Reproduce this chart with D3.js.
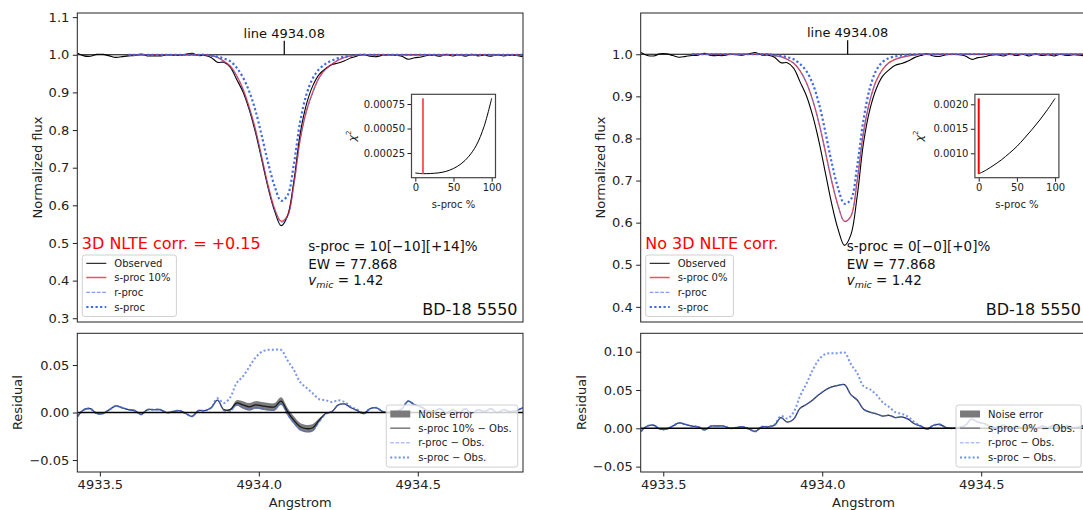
<!DOCTYPE html>
<html>
<head>
<meta charset="utf-8">
<script src="https://d3js.org/d3.v7.min.js"></script>
<style>
  body { margin: 0; background: #fff; }
  svg { display: block; font-family: "DejaVu Sans", sans-serif; }
</style>
</head>
<body>
<svg id="chart" width="1083" height="510"></svg>
<script>
// BD-18 5550, Ba II line at 4934.08, spectrum sampled every 0.02 A
const waveStart = 4933.43;
const waveStep = 0.02;
const lineCenter = 4934.08;

const obsFlux = [
  1.004, 0.997, 0.996, 1.001, 1.001, 0.997, 0.993, 0.995, 0.997, 0.998,
  1.002, 0.997, 0.997, 0.997, 1.000, 0.999, 0.998, 1.001, 1.004, 0.998,
  0.998, 0.993, 0.980, 0.980, 0.967, 0.935, 0.902, 0.854, 0.792, 0.718,
  0.644, 0.584, 0.546, 0.571, 0.663, 0.790, 0.869, 0.918, 0.948, 0.963,
  0.974, 0.978, 0.984, 0.992, 0.997, 1.001, 0.996, 0.995, 0.999, 1.000,
  0.999, 0.996, 0.988, 0.992, 0.994, 0.998, 0.999, 0.996, 1.001, 0.997,
  1.000, 0.996, 1.001, 0.997, 0.999, 0.996, 1.000, 0.997, 0.999, 0.998,
  0.995
];

// synthetic profiles: the part below the continuum, starting at index coreStart
const coreStart = 20;
const continuum = 1.0;
const modelFrom = 8;   // synthetic spectra start at 4933.59

const sproc10Left = [
  1.000, 0.998, 0.993, 0.983, 0.970, 0.945, 0.910, 0.860, 0.800, 0.725,
  0.650, 0.590, 0.558, 0.572, 0.655, 0.775, 0.852, 0.902, 0.940, 0.962,
  0.975, 0.986, 0.993, 0.997, 0.999, 1.000
];
const rprocLeft = [
  1.000, 0.998, 0.993, 0.982, 0.968, 0.943, 0.907, 0.857, 0.797, 0.722,
  0.647, 0.587, 0.555, 0.569, 0.652, 0.772, 0.849, 0.899, 0.938, 0.961,
  0.975, 0.986, 0.993, 0.997, 0.999, 1.000
];
const sprocLeft = [
  1.000, 0.998, 0.995, 0.990, 0.983, 0.966, 0.940, 0.902, 0.850, 0.782,
  0.710, 0.650, 0.612, 0.626, 0.708, 0.822, 0.895, 0.938, 0.962, 0.976,
  0.985, 0.991, 0.995, 0.998, 1.000, 1.000
];
// right panel: best fit is 0 % s-proc, i.e. the r-proc profile itself
const rprocRight = [
  1.000, 0.997, 0.994, 0.988, 0.979, 0.961, 0.933, 0.891, 0.836, 0.768,
  0.698, 0.640, 0.603, 0.615, 0.700, 0.815, 0.890, 0.937, 0.964, 0.980,
  0.988, 0.993, 0.996, 0.998, 1.000, 1.000
];
const sprocRight = [
  1.000, 0.998, 0.996, 0.993, 0.988, 0.977, 0.960, 0.930, 0.882, 0.815,
  0.742, 0.682, 0.645, 0.655, 0.735, 0.845, 0.920, 0.962, 0.982, 0.991,
  0.995, 0.997, 0.999, 1.000, 1.000, 1.000
];

// noise error (half width) around the s-proc 10% residual, from index noiseStart
const noiseStart = 23;
const noiseLeft = [0, 0.001, 0.003, 0.004, 0.004, 0.004, 0.004, 0.004, 0.004,
  0.004, 0.004, 0.004, 0.004, 0.004, 0.004, 0.002, 0];

// chi^2 vs s-process fraction (insets)
const chiFraction = [0, 10, 20, 30, 40, 50, 60, 70, 80, 90, 100];
const chiLeft = [0.000046, 0.000039, 0.000041, 0.000047, 0.000062, 0.000092,
  0.000140, 0.000215, 0.000330, 0.000520, 0.000808];
const chiRight = [0.00058, 0.00066, 0.00076, 0.00087, 0.00100, 0.00114,
  0.00131, 0.00149, 0.00168, 0.00189, 0.00212];

// ticks
const waveTicks = [4933.5, 4934.0, 4934.5];
const fluxTicksLeft = [0.3, 0.4, 0.5, 0.6, 0.7, 0.8, 0.9, 1.0, 1.1];
const fluxTicksRight = [0.4, 0.5, 0.6, 0.7, 0.8, 0.9, 1.0];
const resTicksLeft = [-0.05, 0, 0.05];
const resTicksRight = [-0.05, 0, 0.05, 0.10];
const fracTicks = [0, 50, 100];
const chiTicksLeft = [0.00025, 0.0005, 0.00075];
const chiTicksRight = [0.001, 0.0015, 0.002];

// ---------------------------------------------------------------
const svg = d3.select("#chart");
const mainTop = 13, mainBottom = 322, resTop = 333.3, resBottom = 472;
const waveDomain = [4933.429, 4934.831];
const blue = "#4169e1";
const curve = d3.curveCatmullRom.alpha(0.5);

const wave = obsFlux.map((_, i) => waveStart + i * waveStep);

function fullProfile(core) {
    return obsFlux.map((_, i) => {
        const k = i - coreStart;
        return (k >= 0 && k < core.length) ? core[k] : continuum;
    });
}

const panels = [
    {
        id: "L", x0: 77.3, x1: 523,
        fluxDomain: [0.290, 1.111], fluxTicks: fluxTicksLeft,
        resDomain: [-0.0626, 0.0834], resTicks: resTicksLeft,
        mix: sproc10Left, rproc: rprocLeft, sproc: sprocLeft, noise: noiseLeft,
        mixLabel: "s-proc 10%", corrLabel: "3D NLTE corr. = +0.15",
        fitLabel: "s-proc = 10[\u221210][+14]%", fitDx: 231,
        chi: chiLeft, chiDomain: [-0.000002, 0.000849], chiTicks: chiTicksLeft,
        chiFormat: ".5f", best: 10, bestColor: "#ff5a5a"
    },
    {
        id: "R", x0: 640.7, x1: 1086.4,
        fluxDomain: [0.364, 1.098], fluxTicks: fluxTicksRight,
        resDomain: [-0.057, 0.124], resTicks: resTicksRight,
        mix: rprocRight, rproc: rprocRight, sproc: sprocRight, noise: null,
        mixLabel: "s-proc 0%", corrLabel: "No 3D NLTE corr.",
        fitLabel: "s-proc = 0[\u22120][+0]%", fitDx: 206,
        chi: chiRight, chiDomain: [0.000502, 0.002204], chiTicks: chiTicksRight,
        chiFormat: ".4f", best: 0, bestColor: "#ff0000"
    }
];

function styleAxis(g, size) {
    g.attr("font-family", null).attr("font-size", size);
    g.select(".domain").remove();
    g.selectAll(".tick line").attr("stroke", "#222");
    g.selectAll(".tick text").attr("fill", "#222");
}

function legend(g, x, y, rows, fontSize, rowY) {
    const lg = g.append("g").attr("transform", `translate(${x},${y})`);
    const box = lg.append("rect").attr("rx", 2.5).attr("fill", "white").attr("fill-opacity", 0.8)
        .attr("stroke", "#d0d0d0").attr("stroke-width", 1);
    let maxLen = 0;
    rows.forEach((r, k) => {
        const cy = rowY[k];
        if (r.patch) {
            lg.append("rect").attr("x", 4).attr("y", cy - 3.5).attr("width", 20).attr("height", 7)
                .attr("fill", r.patch);
        } else {
            lg.append("line").attr("x1", 4).attr("x2", 24).attr("y1", cy).attr("y2", cy)
                .attr("stroke", r.color).attr("stroke-width", r.width)
                .attr("stroke-opacity", r.opacity || 1)
                .attr("stroke-dasharray", r.dash || null);
        }
        const t = lg.append("text").attr("x", 32).attr("y", cy).attr("dy", "0.35em")
            .attr("font-size", fontSize).attr("fill", "#222").text(r.label);
        maxLen = Math.max(maxLen, t.node().getComputedTextLength());
    });
    box.attr("width", 32 + maxLen + 6).attr("height", rowY[rowY.length - 1] + 9.5);
    return lg;
}

panels.forEach((p) => {
    const g = svg.append("g");
    const x = d3.scaleLinear().domain(waveDomain).range([p.x0, p.x1]);
    const yMain = d3.scaleLinear().domain(p.fluxDomain).range([mainBottom, mainTop]);
    const yRes = d3.scaleLinear().domain(p.resDomain).range([resBottom, resTop]);

    const mix = fullProfile(p.mix), rproc = fullProfile(p.rproc), sproc = fullProfile(p.sproc);
    const idx = d3.range(obsFlux.length);
    const modelIdx = idx.filter((i) => i >= modelFrom);

    const defs = g.append("defs");
    defs.append("clipPath").attr("id", "clipMain" + p.id).append("rect")
        .attr("x", p.x0).attr("y", mainTop).attr("width", p.x1 - p.x0).attr("height", mainBottom - mainTop);
    defs.append("clipPath").attr("id", "clipRes" + p.id).append("rect")
        .attr("x", p.x0).attr("y", resTop).attr("width", p.x1 - p.x0).attr("height", resBottom - resTop);

    // ---------- main panel ----------
    const m = g.append("g").attr("clip-path", `url(#clipMain${p.id})`);
    const lineMain = (arr) => d3.line().x((i) => x(wave[i])).y((i) => yMain(arr[i])).curve(curve);

    m.append("line").attr("x1", p.x0).attr("x2", p.x1).attr("y1", yMain(1)).attr("y2", yMain(1))
        .attr("stroke", "black").attr("stroke-width", 1);
    m.append("path").attr("d", lineMain(obsFlux)(idx)).attr("fill", "none")
        .attr("stroke", "black").attr("stroke-width", 1.1);
    m.append("path").attr("d", lineMain(mix)(modelIdx)).attr("fill", "none")
        .attr("stroke", "red").attr("stroke-opacity", 0.7).attr("stroke-width", 1.4);
    m.append("path").attr("d", lineMain(rproc)(modelIdx)).attr("fill", "none")
        .attr("stroke", blue).attr("stroke-opacity", 0.8).attr("stroke-width", 1)
        .attr("stroke-dasharray", "3.7,1.6");
    m.append("path").attr("d", lineMain(sproc)(modelIdx)).attr("fill", "none")
        .attr("stroke", blue).attr("stroke-width", 2.2).attr("stroke-dasharray", "2.2,2.4");

    // line marker
    g.append("line").attr("x1", x(lineCenter)).attr("x2", x(lineCenter))
        .attr("y1", yMain(1)).attr("y2", yMain(1) - 14).attr("stroke", "black").attr("stroke-width", 1.2);
    g.append("text").attr("x", x(lineCenter)).attr("y", yMain(1) - 17).attr("text-anchor", "middle")
        .attr("font-size", 13).attr("fill", "#111").text("line " + lineCenter.toFixed(2));

    const ya = g.append("g").attr("transform", `translate(${p.x0},0)`)
        .call(d3.axisLeft(yMain).tickValues(p.fluxTicks).tickFormat(d3.format(".1f")).tickSize(4.5).tickPadding(3.5));
    styleAxis(ya, 13);
    g.append("rect").attr("x", p.x0).attr("y", mainTop).attr("width", p.x1 - p.x0)
        .attr("height", mainBottom - mainTop).attr("fill", "none").attr("stroke", "#222").attr("stroke-width", 1);
    g.append("text").attr("transform", `translate(${p.x0 - 40},${(mainTop + mainBottom) / 2}) rotate(-90)`)
        .attr("text-anchor", "middle").attr("dy", "0.35em").attr("font-size", 13).attr("fill", "#222")
        .text("Normalized flux");

    g.append("text").attr("x", p.x0 + 4.5).attr("y", 249).attr("font-size", 16).attr("fill", "red")
        .text(p.corrLabel);

    const fx = p.x0 + p.fitDx;
    g.append("text").attr("x", fx).attr("y", 250.7).attr("font-size", 13.5).attr("fill", "#111").text(p.fitLabel);
    g.append("text").attr("x", fx).attr("y", 268.8).attr("font-size", 13.5).attr("fill", "#111").text("EW = 77.868");
    const vt = g.append("text").attr("x", fx).attr("y", 284.5).attr("font-size", 13.5).attr("fill", "#111");
    vt.append("tspan").attr("font-style", "italic").text("v");
    vt.append("tspan").attr("font-style", "italic").attr("font-size", 9.5).attr("dy", 3).text("mic");
    vt.append("tspan").attr("dy", -3).text(" = 1.42");

    g.append("text").attr("x", p.x1 - 5.5).attr("y", 315).attr("text-anchor", "end")
        .attr("font-size", 16).attr("fill", "#111").text("BD-18 5550");

    legend(g, p.x0 + 5, 255, [
        { label: "Observed", color: "black", width: 1 },
        { label: p.mixLabel, color: "red", width: 1.5, opacity: 0.7 },
        { label: "r-proc", color: blue, width: 1, opacity: 0.8, dash: "3.7,1.6" },
        { label: "s-proc", color: blue, width: 2.2, dash: "2.2,2.4" }
    ], 10, [8.3, 22.5, 37.3, 52]);

    // ---------- chi^2 inset ----------
    const ix0 = p.x0 + 334.2, ix1 = p.x0 + 418.2, iy0 = 94.3, iy1 = 177.7;
    const xi = d3.scaleLinear().domain([-5, 105]).range([ix0, ix1]);
    const yi = d3.scaleLinear().domain(p.chiDomain).range([iy1, iy0]);
    g.append("rect").attr("x", ix0).attr("y", iy0).attr("width", ix1 - ix0).attr("height", iy1 - iy0)
        .attr("fill", "white");
    g.append("path").attr("d", d3.line().x((d, k) => xi(chiFraction[k])).y((d) => yi(d)).curve(curve)(p.chi))
        .attr("fill", "none").attr("stroke", "black").attr("stroke-width", 1);
    const chiExt = d3.extent(p.chi);
    g.append("line").attr("x1", xi(p.best)).attr("x2", xi(p.best))
        .attr("y1", yi(chiExt[0])).attr("y2", yi(chiExt[1]))
        .attr("stroke", p.bestColor).attr("stroke-width", 2);
    const ixa = g.append("g").attr("transform", `translate(0,${iy1})`)
        .call(d3.axisBottom(xi).tickValues(fracTicks).tickFormat(d3.format("d")).tickSize(4).tickPadding(2.5));
    styleAxis(ixa, 10);
    const iya = g.append("g").attr("transform", `translate(${ix0},0)`)
        .call(d3.axisLeft(yi).tickValues(p.chiTicks).tickFormat(d3.format(p.chiFormat)).tickSize(4).tickPadding(2.5));
    styleAxis(iya, 10);
    g.append("rect").attr("x", ix0).attr("y", iy0).attr("width", ix1 - ix0).attr("height", iy1 - iy0)
        .attr("fill", "none").attr("stroke", "#444").attr("stroke-width", 1.2);
    g.append("text").attr("x", (ix0 + ix1) / 2).attr("y", 207.5).attr("text-anchor", "middle")
        .attr("font-size", 10).attr("fill", "#222").text("s-proc %");
    const chiLab = g.append("text")
        .attr("transform", `translate(${ix0 - (p.id === "L" ? 56 : 52)},${(iy0 + iy1) / 2}) rotate(-90)`)
        .attr("text-anchor", "middle").attr("font-size", 11).attr("fill", "#222");
    chiLab.append("tspan").attr("font-style", "italic").text("\u03c7");
    chiLab.append("tspan").attr("font-size", 7).attr("dy", -5).text("2");

    // ---------- residual panel ----------
    const resMix = idx.map((i) => mix[i] - obsFlux[i]);
    const resR = idx.map((i) => rproc[i] - obsFlux[i]);
    const resS = idx.map((i) => sproc[i] - obsFlux[i]);
    const lineRes = (arr) => d3.line().x((i) => x(wave[i])).y((i) => yRes(arr[i])).curve(curve);

    const r = g.append("g").attr("clip-path", `url(#clipRes${p.id})`);
    if (p.noise) {
        const bandIdx = d3.range(noiseStart, noiseStart + p.noise.length);
        r.append("path").attr("d", d3.area()
            .x((i) => x(wave[i]))
            .y0((i) => yRes(resMix[i] - p.noise[i - noiseStart]))
            .y1((i) => yRes(resMix[i] + p.noise[i - noiseStart]))
            .curve(curve)(bandIdx))
            .attr("fill", "#6e6e6e").attr("fill-opacity", 0.9);
    }
    r.append("path").attr("d", lineRes(resMix)(idx)).attr("fill", "none")
        .attr("stroke", "black").attr("stroke-opacity", 0.8).attr("stroke-width", 1.3);
    r.append("path").attr("d", lineRes(resR)(idx)).attr("fill", "none")
        .attr("stroke", blue).attr("stroke-opacity", 0.7).attr("stroke-width", 1.3)
        .attr("stroke-dasharray", "3.7,1.6");
    r.append("path").attr("d", lineRes(resS)(idx)).attr("fill", "none")
        .attr("stroke", blue).attr("stroke-opacity", 0.7).attr("stroke-width", 2)
        .attr("stroke-dasharray", "2,2.2");
    r.append("line").attr("x1", p.x0).attr("x2", p.x1).attr("y1", yRes(0)).attr("y2", yRes(0))
        .attr("stroke", "black").attr("stroke-width", 1.5);

    const rya = g.append("g").attr("transform", `translate(${p.x0},0)`)
        .call(d3.axisLeft(yRes).tickValues(p.resTicks).tickFormat(d3.format(".2f")).tickSize(4.5).tickPadding(3.5));
    styleAxis(rya, 13);
    const rxa = g.append("g").attr("transform", `translate(0,${resBottom})`)
        .call(d3.axisBottom(x).tickValues(waveTicks).tickFormat(d3.format(".1f")).tickSize(4.5).tickPadding(3.5));
    styleAxis(rxa, 13);

    const lg = legend(g, 0, 405, [
        { label: "Noise error", patch: "#7a7a7a" },
        { label: p.mixLabel + " \u2212 Obs.", color: "#808080", width: 1.6 },
        { label: "r-proc \u2212 Obs.", color: "#8aa4f2", width: 1, dash: "3.7,1.6" },
        { label: "s-proc \u2212 Obs.", color: "#6f8ff0", width: 2, dash: "2,2.2" }
    ], 10, [9, 23.2, 37.8, 52.6]);
    const lw = +lg.select("rect").attr("width");
    lg.attr("transform", `translate(${p.x1 - 5.3 - lw},405)`);

    g.append("rect").attr("x", p.x0).attr("y", resTop).attr("width", p.x1 - p.x0)
        .attr("height", resBottom - resTop).attr("fill", "none").attr("stroke", "#222").attr("stroke-width", 1);
    g.append("text").attr("transform", `translate(${p.x0 - 59.5},${(resTop + resBottom) / 2}) rotate(-90)`)
        .attr("text-anchor", "middle").attr("dy", "0.35em").attr("font-size", 13).attr("fill", "#222")
        .text("Residual");
    g.append("text").attr("x", (p.x0 + p.x1) / 2).attr("y", 506.5).attr("text-anchor", "middle")
        .attr("font-size", 13).attr("fill", "#222").text("Angstrom");
});
</script>
</body>
</html>
